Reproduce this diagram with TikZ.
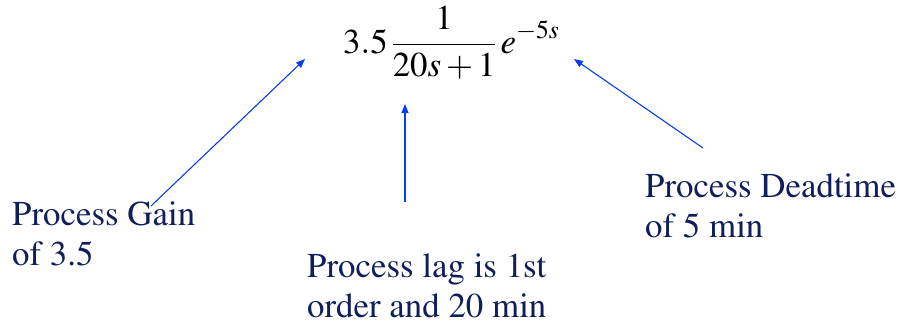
\documentclass[tikz,border=0pt]{standalone}
\usepackage[T1]{fontenc}
\usepackage{mathptmx}
\usepackage{tikz}
\usetikzlibrary{arrows.meta,positioning}
\definecolor{labelnavy}{HTML}{101E5A}
\definecolor{arrowblue}{HTML}{0A3CF0}

\begin{document}
\begin{tikzpicture}[
    x=1bp, y=-1bp,
    lbl/.style={inner sep=0pt, anchor=north west, align=left, text=labelnavy, font=\rmfamily\fontsize{35}{40}\selectfont},
    eqn/.style={inner sep=0pt, anchor=base west, font=\fontsize{35}{40}\selectfont},
    arrow/.style={-{Triangle[length=9bp,width=7bp]}, line width=1.1bp, color=arrowblue}
]
  \useasboundingbox (0,0) rectangle (907,325);

  % transfer function
  \node[eqn] (tf) at (343,53) {$\displaystyle 3.5\,\frac{1}{20s+1}\,e^{-5s}$};

  % labels
  \node[lbl] (gain) at (12,202) {Process Gain\\of 3.5};
  \node[lbl] (lag) at (307,254) {Process lag is 1st\\order and 20 min};
  \node[lbl] (dead) at (645,174) {Process Deadtime\\of 5 min};

  % arrow ends
  \coordinate (gainTail) at (151,206);
  \coordinate (gainTip) at (305,59);
  \coordinate (lagTail) at (405,202);
  \coordinate (lagTip) at (405,104);
  \coordinate (deadTail) at (703,148);
  \coordinate (deadTip) at (574,59);

  \draw[arrow] (gainTail) -- (gainTip);
  \draw[arrow] (lagTail) -- (lagTip);
  \draw[arrow] (deadTail) -- (deadTip);
\end{tikzpicture}
\end{document}
